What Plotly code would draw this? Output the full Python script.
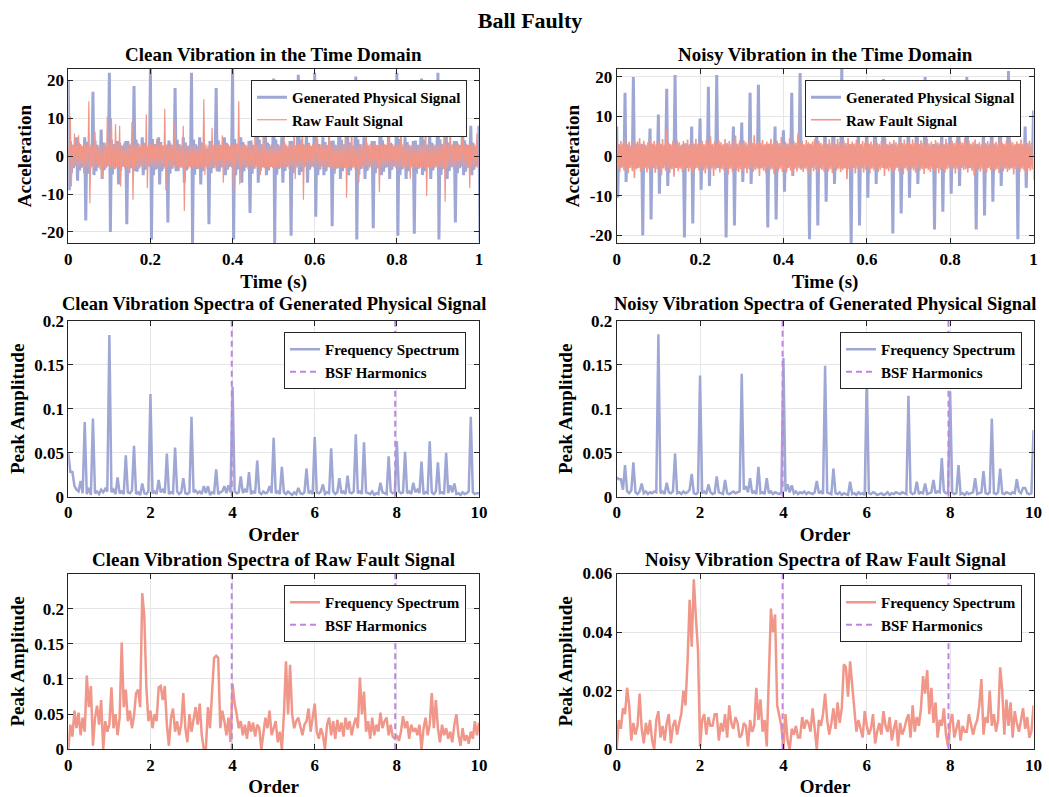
import plotly.graph_objects as go

FONT = "Liberation Serif"
BLUE = "#9FA7D5"
SALMON = "#F0978A"
PURPLE = "#BF85E0"
AXIS_COLOR = "#262626"
GRID_COLOR = "#E6E6E6"

# ------------------------------------------------------------------
# Time-domain signals, stored as the max / min of each 5 ms window
# ------------------------------------------------------------------
T_STEP = 0.005

gen_clean_hi = [
    20.0, 4.0, 3.0, 2.2, 5.0, 3.5, 2.8, 2.0, 5.0, 3.8, 2.6, 2.1, 17.0, 4.2, 3.0, 2.3, 7.0, 3.6, 2.7, 2.0,
    22.0, 4.3, 3.1, 2.2, 4.0, 3.6, 2.7, 2.0, 4.0, 4.0, 2.9, 2.1, 18.5, 4.4, 3.2, 2.3, 5.0, 3.5, 2.6, 2.0,
    23.0, 4.5, 3.2, 2.3, 5.0, 3.7, 2.8, 2.1, 3.0, 4.1, 3.0, 2.2, 18.0, 4.3, 3.1, 2.2, 5.0, 3.6, 2.7, 2.0,
    22.0, 4.4, 3.1, 2.2, 5.0, 3.6, 2.7, 2.0, 2.0, 4.0, 2.9, 2.1, 18.0, 4.2, 3.0, 2.2, 5.0, 3.5, 2.6, 2.0,
    23.0, 4.5, 3.2, 2.3, 5.0, 3.7, 2.8, 2.1, 4.0, 4.1, 3.0, 2.2, 17.0, 4.3, 3.1, 2.2, 6.0, 3.6, 2.7, 2.0,
    20.5, 4.4, 3.1, 2.2, 5.0, 3.6, 2.7, 2.0, 4.0, 4.0, 2.9, 2.1, 21.5, 4.4, 3.2, 2.3, 6.0, 3.5, 2.6, 2.0,
    22.0, 4.5, 3.2, 2.3, 5.0, 3.7, 2.8, 2.1, 4.0, 4.1, 3.0, 2.2, 19.0, 4.3, 3.1, 2.2, 6.0, 3.6, 2.7, 2.0,
    21.0, 4.4, 3.1, 2.2, 5.0, 3.6, 2.7, 2.0, 4.0, 4.0, 2.9, 2.1, 18.0, 4.2, 3.0, 2.2, 6.0, 3.5, 2.6, 2.0,
    22.0, 4.5, 3.2, 2.3, 5.0, 3.7, 2.8, 2.1, 4.0, 4.1, 3.0, 2.2, 20.5, 4.3, 3.1, 2.2, 6.0, 3.6, 2.7, 2.0,
    22.0, 4.4, 3.1, 2.2, 7.5, 3.6, 2.7, 2.0, 4.0, 4.0, 2.9, 2.1, 8.0, 4.2, 3.0, 2.2, 8.0, 3.5, 2.6, 2.0,
    8.0,
]
gen_clean_lo = [
    -9.0, -4.5, -3.2, -2.4, -6.5, -3.8, -2.9, -2.2, -17.0, -4.6, -3.3, -2.5, -5.0, -4.0, -3.0, -2.3, -6.0, -3.7, -2.8, -2.1,
    -20.0, -4.8, -3.4, -2.5, -7.5, -3.9, -2.8, -2.2, -18.0, -4.5, -3.2, -2.4, -4.0, -4.1, -3.0, -2.2, -5.0, -3.6, -2.7, -2.1,
    -22.0, -5.0, -3.5, -2.6, -7.5, -4.0, -2.9, -2.2, -17.5, -4.6, -3.3, -2.4, -4.0, -4.0, -3.0, -2.3, -7.0, -3.8, -2.8, -2.1,
    -23.0, -4.9, -3.4, -2.5, -7.5, -3.9, -2.8, -2.1, -18.0, -4.5, -3.2, -2.4, -4.0, -4.1, -3.0, -2.2, -5.0, -3.6, -2.7, -2.1,
    -22.0, -5.0, -3.5, -2.6, -7.0, -4.0, -2.9, -2.2, -15.0, -4.6, -3.3, -2.4, -7.0, -4.0, -3.0, -2.3, -5.0, -3.8, -2.8, -2.1,
    -23.0, -4.9, -3.4, -2.5, -7.0, -3.9, -2.8, -2.1, -21.0, -4.5, -3.2, -2.4, -5.0, -4.1, -3.0, -2.2, -7.0, -3.6, -2.7, -2.1,
    -16.0, -5.0, -3.5, -2.6, -5.0, -4.0, -2.9, -2.2, -18.5, -4.6, -3.3, -2.4, -6.0, -4.0, -3.0, -2.3, -5.0, -3.8, -2.8, -2.1,
    -22.0, -4.9, -3.4, -2.5, -6.0, -3.9, -2.8, -2.1, -19.0, -4.5, -3.2, -2.4, -5.0, -4.1, -3.0, -2.2, -6.0, -3.6, -2.7, -2.1,
    -21.0, -5.0, -3.5, -2.6, -6.0, -4.0, -2.9, -2.2, -20.5, -4.6, -3.3, -2.4, -5.0, -4.0, -3.0, -2.3, -6.0, -3.8, -2.8, -2.1,
    -22.0, -4.9, -3.4, -2.5, -6.0, -3.9, -2.8, -2.1, -17.5, -4.5, -3.2, -2.4, -5.0, -4.1, -3.0, -2.2, -5.0, -3.6, -2.7, -2.1,
    -22.5,
]

raw_clean_hi = [
    2.5, 10.5, 3.0, 6.0, 2.8, 5.5, 3.2, 2.6, 3.4, 2.9, 14.5, 3.1, 2.7, 6.5, 3.0, 2.4, 3.3, 2.8, 3.5, 10.5,
    3.0, 10.0, 2.7, 8.5, 3.2, 8.0, 2.9, 3.4, 2.6, 3.1, 3.3, 9.0, 2.8, 3.0, 3.5, 2.7, 3.2, 2.9, 11.0, 3.1,
    3.3, 2.8, 3.0, 4.5, 2.9, 3.2, 2.7, 12.5, 3.1, 2.8, 3.4, 3.0, 9.0, 2.6, 3.2, 2.9, 8.0, 3.3, 2.7, 3.1,
    2.8, 3.2, 3.0, 2.7, 3.4, 2.9, 15.0, 3.1, 2.8, 3.3, 7.5, 3.0, 2.7, 3.2, 2.9, 5.5, 3.4, 2.8, 3.1, 3.0,
    3.1, 2.8, 3.3, 14.5, 3.0, 2.7, 3.2, 2.9, 3.4, 3.0, 2.8, 9.0, 3.1, 3.3, 2.9, 8.0, 3.0, 2.7, 3.2, 3.1,
    2.9, 3.2, 3.0, 2.8, 3.3, 8.0, 3.1, 2.7, 3.2, 3.0, 9.5, 2.9, 3.3, 3.1, 9.8, 3.0, 2.8, 3.2, 2.9, 3.1,
    3.2, 10.0, 2.9, 3.1, 2.8, 3.3, 3.0, 10.5, 2.9, 3.2, 3.0, 2.8, 3.1, 3.3, 2.9, 9.0, 3.0, 3.2, 9.0, 2.8,
    3.0, 2.9, 3.2, 3.1, 2.8, 8.5, 3.0, 3.3, 2.9, 3.1, 3.0, 2.8, 3.2, 2.9, 3.1, 3.0, 5.0, 2.8, 3.2, 3.0,
    2.9, 3.1, 9.0, 3.0, 2.8, 3.2, 3.1, 2.9, 3.3, 3.0, 2.8, 3.1, 3.2, 2.9, 10.0, 3.0, 3.1, 2.8, 3.2, 3.0,
    3.1, 2.9, 3.0, 8.0, 3.2, 2.8, 10.0, 3.1, 3.0, 2.9, 3.3, 3.0, 9.5, 2.8, 3.1, 3.0, 3.2, 2.9, 3.1, 6.0,
]
raw_clean_lo = [
    -2.2, -8.0, -3.0, -2.6, -3.4, -2.8, -3.1, -4.5, -2.7, -3.2, -12.5, -2.9, -3.3, -2.5, -3.0, -3.6, -6.0, -2.8, -3.1, -2.6,
    -3.1, -2.7, -3.4, -2.9, -3.0, -8.0, -2.6, -3.3, -3.0, -4.2, -2.8, -11.5, -3.1, -2.9, -3.4, -2.7, -3.2, -3.0, -8.5, -2.8,
    -2.9, -3.2, -2.7, -3.3, -3.0, -2.8, -3.4, -9.0, -3.1, -2.6, -3.2, -3.0, -2.8, -3.5, -2.9, -3.1, -14.5, -2.7, -3.3, -3.0,
    -3.2, -2.8, -3.1, -3.4, -2.7, -3.0, -5.0, -3.3, -2.9, -3.1, -2.8, -3.2, -4.0, -3.0, -2.7, -7.0, -3.1, -3.3, -2.9, -3.0,
    -10.0, -3.0, -2.8, -7.5, -3.2, -2.9, -3.1, -3.4, -2.7, -3.0, -3.3, -2.9, -3.1, -5.0, -2.8, -3.2, -3.0, -3.4, -2.9, -3.1,
    -3.0, -3.3, -2.8, -3.1, -2.9, -3.2, -3.0, -3.4, -2.7, -3.1, -6.0, -2.9, -3.2, -3.0, -11.5, -2.8, -3.1, -3.3, -2.9, -3.0,
    -2.9, -3.1, -3.3, -2.8, -3.0, -3.2, -2.9, -3.1, -3.0, -3.4, -2.8, -3.1, -3.0, -2.9, -3.2, -11.0, -3.0, -2.8, -3.1, -3.3,
    -3.1, -7.0, -2.9, -3.2, -3.0, -2.8, -3.3, -3.0, -2.9, -3.1, -3.2, -9.5, -2.8, -3.0, -3.1, -2.9, -3.3, -3.0, -2.8, -3.2,
    -3.0, -3.2, -2.9, -3.1, -3.3, -2.8, -6.0, -3.0, -3.1, -2.9, -3.2, -3.0, -2.8, -3.1, -10.5, -3.0, -3.3, -2.9, -3.1, -3.0,
    -2.9, -3.1, -3.0, -12.0, -3.2, -2.8, -3.0, -3.3, -2.9, -3.1, -3.0, -2.8, -3.2, -3.0, -3.1, -8.5, -2.9, -3.2, -3.0, -3.1,
]

gen_noisy_hi = [
    7.5, 3.0, 2.5, 2.0, 16.0, 2.9, 2.4, 2.0, 20.0, 3.0, 2.6, 2.1, 3.0, 2.8, 2.3, 2.0, 7.0, 3.0, 2.5, 2.1,
    10.5, 2.9, 2.4, 2.0, 17.0, 3.0, 2.5, 2.1, 20.5, 2.8, 2.4, 2.0, 3.0, 3.0, 2.6, 2.1, 7.5, 2.9, 2.3, 2.0,
    9.5, 3.0, 2.5, 2.1, 17.5, 2.8, 2.4, 2.0, 20.5, 3.0, 2.6, 2.1, 3.0, 2.9, 2.4, 2.0, 7.5, 3.0, 2.5, 2.1,
    8.5, 2.9, 2.4, 2.0, 16.0, 3.0, 2.5, 2.1, 18.0, 2.8, 2.4, 2.0, 3.0, 3.0, 2.6, 2.1, 7.5, 2.9, 2.3, 2.0,
    6.5, 3.0, 2.5, 2.1, 16.0, 2.8, 2.4, 2.0, 21.0, 3.0, 2.6, 2.1, 3.0, 2.9, 2.4, 2.0, 7.0, 3.0, 2.5, 2.1,
    9.0, 2.9, 2.4, 2.0, 17.0, 3.0, 2.5, 2.1, 22.0, 2.8, 2.4, 2.0, 3.0, 3.0, 2.6, 2.1, 7.5, 2.9, 2.3, 2.0,
    9.0, 3.0, 2.5, 2.1, 16.5, 2.8, 2.4, 2.0, 19.5, 3.0, 2.6, 2.1, 3.0, 2.9, 2.4, 2.0, 7.0, 3.0, 2.5, 2.1,
    10.0, 2.9, 2.4, 2.0, 17.0, 3.0, 2.5, 2.1, 20.0, 2.8, 2.4, 2.0, 3.0, 3.0, 2.6, 2.1, 7.0, 2.9, 2.3, 2.0,
    9.0, 3.0, 2.5, 2.1, 17.0, 2.8, 2.4, 2.0, 20.0, 3.0, 2.6, 2.1, 3.0, 2.9, 2.4, 2.0, 7.0, 3.0, 2.5, 2.1,
    11.0, 2.9, 2.4, 2.0, 16.0, 3.0, 2.5, 2.1, 21.5, 2.8, 2.4, 2.0, 3.0, 3.0, 2.6, 2.1, 7.5, 2.9, 2.3, 2.0,
    11.5,
]
gen_noisy_lo = [
    -10.5, -3.0, -2.5, -2.0, -6.5, -2.9, -2.4, -2.0, -3.0, -3.0, -2.6, -2.1, -20.0, -2.8, -2.3, -2.0, -16.0, -3.0, -2.5, -2.1,
    -9.5, -2.9, -2.4, -2.0, -7.5, -3.0, -2.5, -2.1, -3.0, -2.8, -2.4, -2.0, -20.5, -3.0, -2.6, -2.1, -17.0, -2.9, -2.3, -2.0,
    -8.5, -3.0, -2.5, -2.1, -7.5, -2.8, -2.4, -2.0, -3.0, -3.0, -2.6, -2.1, -20.5, -2.9, -2.4, -2.0, -17.5, -3.0, -2.5, -2.1,
    -6.5, -2.9, -2.4, -2.0, -7.0, -3.0, -2.5, -2.1, -3.0, -2.8, -2.4, -2.0, -18.0, -3.0, -2.6, -2.1, -16.0, -2.9, -2.3, -2.0,
    -9.0, -3.0, -2.5, -2.1, -5.0, -2.8, -2.4, -2.0, -3.0, -3.0, -2.6, -2.1, -21.0, -2.9, -2.4, -2.0, -17.5, -3.0, -2.5, -2.1,
    -11.5, -2.9, -2.4, -2.0, -7.0, -3.0, -2.5, -2.1, -3.0, -2.8, -2.4, -2.0, -22.0, -3.0, -2.6, -2.1, -17.5, -2.9, -2.3, -2.0,
    -10.5, -3.0, -2.5, -2.1, -7.0, -2.8, -2.4, -2.0, -3.0, -3.0, -2.6, -2.1, -19.5, -2.9, -2.4, -2.0, -14.5, -3.0, -2.5, -2.1,
    -10.5, -2.9, -2.4, -2.0, -7.0, -3.0, -2.5, -2.1, -3.0, -2.8, -2.4, -2.0, -18.5, -3.0, -2.6, -2.1, -14.0, -2.9, -2.3, -2.0,
    -9.5, -3.0, -2.5, -2.1, -7.5, -2.8, -2.4, -2.0, -3.0, -3.0, -2.6, -2.1, -18.5, -2.9, -2.4, -2.0, -15.0, -3.0, -2.5, -2.1,
    -11.5, -2.9, -2.4, -2.0, -7.5, -3.0, -2.5, -2.1, -3.0, -2.8, -2.4, -2.0, -21.0, -3.0, -2.6, -2.1, -8.0, -2.9, -2.3, -2.0,
    -6.0,
]

raw_noisy_hi = [
    3.5, 2.9, 3.8, 3.2, 4.2, 3.0, 3.6, 2.8, 4.0, 3.3, 3.7, 4.5, 3.1, 3.9, 2.9, 3.5, 4.1, 3.2, 3.8, 3.0,
    3.6, 3.1, 4.3, 2.9, 6.6, 3.4, 3.0, 3.9, 3.2, 4.0, 3.5, 2.9, 3.8, 3.3, 4.2, 3.0, 3.6, 3.2, 4.4, 3.1,
    3.3, 3.9, 3.0, 4.1, 3.4, 5.0, 3.1, 3.7, 3.2, 4.0, 3.5, 3.0, 4.3, 3.3, 3.8, 3.1, 3.6, 5.2, 3.2, 3.9,
    3.2, 4.0, 3.5, 3.0, 4.2, 3.3, 5.3, 3.1, 3.8, 3.4, 4.1, 3.0, 3.7, 3.2, 4.4, 3.1, 3.6, 3.9, 3.3, 4.8,
    3.0, 3.6, 3.2, 4.5, 3.1, 3.8, 3.4, 5.8, 3.2, 3.9, 3.0, 4.1, 3.5, 3.1, 3.7, 4.3, 3.2, 3.9, 3.4, 3.0,
    3.7, 3.1, 4.2, 3.3, 3.9, 3.0, 4.4, 3.5, 3.1, 4.0, 3.3, 4.6, 3.0, 3.7, 3.2, 4.1, 3.4, 3.0, 3.8, 3.3,
    4.0, 3.2, 3.7, 3.0, 4.3, 3.4, 3.1, 3.9, 3.3, 4.6, 3.0, 3.6, 3.2, 4.1, 3.5, 3.0, 3.8, 3.3, 4.2, 3.1,
    3.5, 3.1, 4.2, 3.3, 3.8, 3.0, 4.0, 3.4, 3.1, 4.4, 3.2, 3.7, 3.0, 4.1, 3.5, 3.2, 3.9, 3.0, 4.3, 3.3,
    3.0, 3.8, 3.3, 4.1, 3.1, 3.7, 3.4, 4.5, 3.0, 3.9, 3.2, 3.6, 4.2, 3.1, 3.5, 3.0, 4.0, 3.3, 3.8, 3.2,
    4.1, 3.2, 3.6, 3.0, 4.3, 3.4, 3.1, 3.9, 3.3, 4.0, 3.5, 3.0, 3.7, 3.2, 4.2, 3.1, 3.6, 3.3, 3.9, 3.4,
]
raw_noisy_lo = [
    -3.2, -4.0, -2.9, -3.6, -3.1, -4.3, -3.0, -3.8, -5.5, -3.3, -3.0, -3.9, -3.4, -2.9, -4.1, -3.2, -3.7, -3.0, -4.2, -3.3,
    -3.5, -4.8, -3.1, -3.7, -3.0, -4.2, -3.3, -5.2, -3.0, -3.8, -3.2, -4.0, -3.5, -2.9, -3.9, -3.1, -4.5, -3.3, -3.0, -3.6,
    -3.0, -3.6, -4.4, -3.2, -3.8, -3.1, -5.0, -3.4, -3.0, -4.1, -3.3, -3.7, -3.0, -4.6, -3.2, -3.9, -3.1, -3.6, -4.0, -3.3,
    -3.8, -3.1, -4.3, -3.3, -3.0, -4.0, -3.5, -3.2, -5.0, -3.1, -3.7, -4.2, -3.0, -3.6, -3.3, -4.5, -3.1, -3.8, -3.2, -4.0,
    -3.4, -4.1, -3.0, -3.7, -4.6, -3.2, -3.9, -3.1, -3.5, -4.0, -3.2, -3.6, -4.8, -3.0, -3.8, -3.3, -4.2, -3.1, -3.5, -3.9,
    -3.1, -3.8, -3.3, -4.3, -3.0, -3.6, -3.2, -4.0, -3.5, -3.1, -5.8, -3.3, -3.9, -3.0, -4.4, -3.2, -3.7, -3.1, -4.1, -3.4,
    -3.0, -4.4, -3.2, -3.6, -3.1, -4.0, -3.4, -3.0, -5.0, -3.3, -3.8, -3.1, -4.2, -3.5, -3.0, -3.9, -3.2, -4.6, -3.1, -3.6,
    -3.9, -3.2, -3.6, -4.2, -3.0, -3.7, -3.3, -4.5, -3.1, -3.5, -4.0, -3.2, -3.8, -3.0, -4.3, -3.4, -3.1, -4.1, -3.3, -3.0,
    -3.6, -3.1, -4.4, -3.2, -3.9, -3.0, -3.5, -3.3, -4.1, -3.0, -3.7, -4.8, -3.1, -3.4, -3.9, -3.2, -3.6, -4.2, -3.0, -3.5,
    -3.1, -3.7, -3.3, -4.3, -3.0, -3.8, -3.2, -4.0, -3.5, -3.1, -4.6, -3.3, -3.0, -3.9, -3.2, -3.6, -4.4, -3.1, -3.7, -3.3,
]

# ------------------------------------------------------------------
# Order spectra (peak amplitude every 0.05 order, 0 … 10)
# ------------------------------------------------------------------
ORDER_STEP = 0.05
BSF_ORDERS = [3.98, 7.96]

spec_gen_clean = [
    0.050, 0.028, 0.028, 0.012, 0.008, 0.006, 0.018, 0.004, 0.085, 0.003, 0.010, 0.002, 0.089, 0.004, 0.006, 0.003, 0.008, 0.005, 0.009, 0.006,
    0.184, 0.005, 0.008, 0.003, 0.022, 0.004, 0.006, 0.003, 0.047, 0.005, 0.004, 0.007, 0.058, 0.003, 0.005, 0.002, 0.015, 0.004, 0.003, 0.006,
    0.117, 0.004, 0.006, 0.003, 0.019, 0.005, 0.008, 0.004, 0.049, 0.003, 0.005, 0.004, 0.056, 0.006, 0.003, 0.005, 0.021, 0.004, 0.003, 0.005,
    0.091, 0.005, 0.007, 0.004, 0.006, 0.003, 0.012, 0.004, 0.012, 0.002, 0.005, 0.004, 0.031, 0.003, 0.005, 0.006, 0.012, 0.004, 0.013, 0.005,
    0.125, 0.006, 0.004, 0.005, 0.023, 0.004, 0.008, 0.005, 0.028, 0.003, 0.006, 0.004, 0.041, 0.005, 0.003, 0.006, 0.004, 0.005, 0.012, 0.004,
    0.067, 0.004, 0.006, 0.003, 0.034, 0.005, 0.003, 0.006, 0.004, 0.002, 0.005, 0.003, 0.010, 0.004, 0.003, 0.005, 0.032, 0.004, 0.006, 0.003,
    0.068, 0.005, 0.004, 0.006, 0.014, 0.003, 0.005, 0.004, 0.055, 0.006, 0.003, 0.005, 0.021, 0.004, 0.006, 0.003, 0.024, 0.005, 0.004, 0.006,
    0.071, 0.004, 0.006, 0.003, 0.062, 0.005, 0.004, 0.003, 0.006, 0.002, 0.004, 0.003, 0.016, 0.005, 0.004, 0.003, 0.046, 0.006, 0.004, 0.005,
    0.063, 0.006, 0.004, 0.005, 0.051, 0.004, 0.006, 0.003, 0.016, 0.005, 0.008, 0.004, 0.040, 0.003, 0.005, 0.004, 0.063, 0.005, 0.003, 0.006,
    0.039, 0.004, 0.005, 0.003, 0.050, 0.004, 0.013, 0.005, 0.015, 0.003, 0.004, 0.002, 0.005, 0.003, 0.004, 0.006, 0.091, 0.005, 0.003, 0.004,
    0.004,
]
spec_gen_noisy = [
    0.022, 0.020, 0.020, 0.008, 0.036, 0.006, 0.004, 0.007, 0.039, 0.005, 0.003, 0.006, 0.015, 0.004, 0.006, 0.003, 0.005, 0.004, 0.006, 0.005,
    0.185, 0.004, 0.006, 0.003, 0.016, 0.005, 0.004, 0.006, 0.049, 0.004, 0.005, 0.003, 0.006, 0.004, 0.005, 0.008, 0.026, 0.004, 0.003, 0.005,
    0.138, 0.004, 0.006, 0.003, 0.014, 0.005, 0.003, 0.004, 0.023, 0.005, 0.004, 0.003, 0.019, 0.004, 0.003, 0.005, 0.006, 0.004, 0.005, 0.006,
    0.140, 0.008, 0.012, 0.005, 0.021, 0.004, 0.006, 0.003, 0.034, 0.004, 0.005, 0.003, 0.021, 0.004, 0.006, 0.003, 0.005, 0.004, 0.003, 0.005,
    0.158, 0.006, 0.014, 0.005, 0.013, 0.004, 0.006, 0.003, 0.005, 0.004, 0.006, 0.003, 0.005, 0.004, 0.003, 0.005, 0.018, 0.004, 0.006, 0.003,
    0.149, 0.005, 0.004, 0.003, 0.032, 0.004, 0.003, 0.005, 0.002, 0.004, 0.003, 0.002, 0.017, 0.003, 0.004, 0.002, 0.005, 0.003, 0.004, 0.002,
    0.138, 0.004, 0.003, 0.005, 0.004, 0.002, 0.003, 0.004, 0.002, 0.003, 0.005, 0.002, 0.004, 0.003, 0.005, 0.004, 0.003, 0.005, 0.004, 0.003,
    0.115, 0.005, 0.003, 0.004, 0.017, 0.003, 0.005, 0.004, 0.015, 0.003, 0.004, 0.005, 0.019, 0.004, 0.006, 0.005, 0.044, 0.006, 0.004, 0.005,
    0.120, 0.005, 0.003, 0.004, 0.036, 0.003, 0.004, 0.002, 0.005, 0.003, 0.004, 0.005, 0.021, 0.003, 0.004, 0.005, 0.029, 0.004, 0.003, 0.005,
    0.089, 0.004, 0.003, 0.005, 0.032, 0.004, 0.003, 0.005, 0.004, 0.003, 0.005, 0.004, 0.020, 0.006, 0.004, 0.010, 0.010, 0.004, 0.003, 0.004,
    0.076,
]
spec_raw_clean = [
    0.000, 0.035, 0.018, 0.055, 0.030, 0.052, 0.020, 0.045, 0.025, 0.105, 0.060, 0.090, 0.005, 0.045, 0.062, 0.035, 0.070, 0.000, 0.040, 0.025,
    0.035, 0.088, 0.030, 0.050, 0.020, 0.045, 0.152, 0.060, 0.085, 0.040, 0.055, 0.030, 0.048, 0.080, 0.085, 0.060, 0.222, 0.190, 0.090, 0.040,
    0.055, 0.030, 0.050, 0.040, 0.088, 0.090, 0.070, 0.090, 0.035, 0.005, 0.045, 0.058, 0.025, 0.040, 0.020, 0.035, 0.080, 0.030, 0.010, 0.050,
    0.025, 0.045, 0.060, 0.035, 0.065, 0.020, 0.000, 0.000, 0.060, 0.030, 0.083, 0.130, 0.133, 0.130, 0.030, 0.055, 0.040, 0.020, 0.045, 0.010,
    0.093, 0.065, 0.050, 0.030, 0.040, 0.020, 0.035, 0.015, 0.040, 0.025, 0.038, 0.018, 0.035, 0.030, 0.000, 0.025, 0.045, 0.030, 0.055, 0.020,
    0.030, 0.040, 0.010, 0.025, 0.000, 0.050, 0.125, 0.050, 0.120, 0.050, 0.030, 0.040, 0.045, 0.030, 0.020, 0.035, 0.040, 0.058, 0.025, 0.045,
    0.065, 0.025, 0.015, 0.030, 0.020, 0.000, 0.035, 0.045, 0.020, 0.040, 0.015, 0.042, 0.025, 0.038, 0.018, 0.045, 0.028, 0.040, 0.020, 0.035,
    0.045, 0.030, 0.102, 0.050, 0.082, 0.025, 0.040, 0.015, 0.045, 0.020, 0.035, 0.025, 0.052, 0.030, 0.040, 0.045, 0.020, 0.035, 0.018, 0.015,
    0.020, 0.012, 0.025, 0.047, 0.030, 0.040, 0.015, 0.035, 0.025, 0.030, 0.020, 0.035, 0.000, 0.030, 0.045, 0.020, 0.035, 0.080, 0.030, 0.070,
    0.030, 0.010, 0.035, 0.020, 0.030, 0.015, 0.025, 0.010, 0.035, 0.050, 0.020, 0.005, 0.030, 0.012, 0.020, 0.008, 0.025, 0.015, 0.040, 0.020,
    0.038,
]
spec_raw_noisy = [
    0.000, 0.010, 0.007, 0.014, 0.012, 0.021, 0.015, 0.003, 0.009, 0.005, 0.008, 0.019, 0.007, 0.002, 0.009, 0.005, 0.010, 0.003, 0.000, 0.010,
    0.013, 0.004, 0.008, 0.003, 0.009, 0.012, 0.002, 0.008, 0.010, 0.005, 0.009, 0.012, 0.020, 0.015, 0.030, 0.051, 0.035, 0.058, 0.045, 0.034,
    0.001, 0.010, 0.012, 0.005, 0.011, 0.008, 0.008, 0.012, 0.012, 0.003, 0.009, 0.006, 0.012, 0.004, 0.015, 0.009, 0.007, 0.011, 0.009, 0.004,
    0.005, 0.009, 0.008, 0.001, 0.010, 0.006, 0.008, 0.021, 0.010, 0.017, 0.006, 0.010, 0.001, 0.028, 0.048, 0.040, 0.046, 0.015, 0.012, 0.008,
    0.000, 0.012, 0.003, 0.000, 0.007, 0.005, 0.008, 0.004, 0.004, 0.011, 0.007, 0.010, 0.009, 0.006, 0.014, 0.006, 0.000, 0.010, 0.008, 0.012,
    0.019, 0.010, 0.005, 0.009, 0.014, 0.007, 0.016, 0.009, 0.014, 0.029, 0.028, 0.018, 0.030, 0.022, 0.015, 0.006, 0.010, 0.007, 0.004, 0.013,
    0.008, 0.005, 0.007, 0.012, 0.002, 0.006, 0.009, 0.005, 0.013, 0.008, 0.006, 0.011, 0.003, 0.007, 0.010, 0.001, 0.009, 0.005, 0.007, 0.010,
    0.012, 0.004, 0.015, 0.006, 0.011, 0.008, 0.014, 0.025, 0.019, 0.027, 0.012, 0.021, 0.009, 0.016, 0.004, 0.010, 0.008, 0.014, 0.005, 0.001,
    0.009, 0.012, 0.004, 0.007, 0.010, 0.003, 0.008, 0.006, 0.006, 0.012, 0.009, 0.005, 0.008, 0.010, 0.015, 0.024, 0.005, 0.011, 0.009, 0.020,
    0.008, 0.012, 0.006, 0.010, 0.028, 0.020, 0.005, 0.017, 0.008, 0.016, 0.004, 0.013, 0.009, 0.006, 0.010, 0.014, 0.007, 0.011, 0.004, 0.006,
    0.015,
]

# axis ticks
time_ticks = [0, 0.2, 0.4, 0.6, 0.8, 1]
time_ticktext = ["0", "0.2", "0.4", "0.6", "0.8", "1"]
order_ticks = [0, 2, 4, 6, 8, 10]
order_ticktext = ["0", "2", "4", "6", "8", "10"]
acc_ticks = [-20, -10, 0, 10, 20]
acc_ticktext = ["-20", "-10", "0", "10", "20"]
amp_ticks = [0, 0.05, 0.1, 0.15, 0.2]
amp_ticktext = ["0", "0.05", "0.1", "0.15", "0.2"]
amp_small_ticks = [0, 0.02, 0.04, 0.06]
amp_small_ticktext = ["0", "0.02", "0.04", "0.06"]


def minmax_path(hi, lo, step):
    """Zig-zag through the max and min of every window."""
    xs, ys = [], []
    for i, (h, l) in enumerate(zip(hi, lo)):
        t = i * step
        xs.extend([t, t + step / 2])
        ys.extend([h, l])
    return xs, ys


def order_axis(values):
    return [i * ORDER_STEP for i in range(len(values))]


def harmonic_lines(top):
    xs, ys = [], []
    for f in BSF_ORDERS:
        xs.extend([f, f, None])
        ys.extend([0, top, None])
    return xs, ys


# ------------------------------------------------------------------
# Figure geometry (pixel boxes of the six panels)
# ------------------------------------------------------------------
W, H = 1049, 797
XL = [68.3 / W, 479.0 / W]
XR = [616.7 / W, 1033.5 / W]
Y_TOP = [1 - 243.3 / H, 1 - 69.0 / H]
Y_MID = [1 - 496.7 / H, 1 - 321.0 / H]
Y_BOT = [1 - 749.3 / H, 1 - 573.5 / H]

fig = go.Figure()

# --- time domain ---
for idx, (ghi, glo, rhi, rlo, rw) in enumerate([
    (gen_clean_hi, gen_clean_lo, raw_clean_hi, raw_clean_lo, 1.2),
    (gen_noisy_hi, gen_noisy_lo, raw_noisy_hi, raw_noisy_lo, 1.6),
]):
    ax = str(idx + 1) if idx else ""
    leg = "legend" + (str(idx + 1) if idx else "")
    gx, gy = minmax_path(ghi, glo, T_STEP)
    rx, ry = minmax_path(rhi, rlo, T_STEP)
    fig.add_trace(go.Scatter(x=gx, y=gy, mode="lines", name="Generated Physical Signal",
                             line=dict(color=BLUE, width=3), xaxis="x" + ax, yaxis="y" + ax,
                             legend=leg, hoverinfo="skip"))
    fig.add_trace(go.Scatter(x=rx, y=ry, mode="lines", name="Raw Fault Signal",
                             line=dict(color=SALMON, width=rw), xaxis="x" + ax, yaxis="y" + ax,
                             legend=leg, hoverinfo="skip"))

# --- spectra ---
spectra = [
    (3, spec_gen_clean, BLUE, 0.2),
    (4, spec_gen_noisy, BLUE, 0.2),
    (5, spec_raw_clean, SALMON, 0.25),
    (6, spec_raw_noisy, SALMON, 0.06),
]
for n, spec, color, top in spectra:
    ax = str(n)
    leg = "legend" + ax
    fig.add_trace(go.Scatter(x=order_axis(spec), y=spec, mode="lines", name="Frequency Spectrum",
                             line=dict(color=color, width=2.5), xaxis="x" + ax, yaxis="y" + ax,
                             legend=leg, hoverinfo="skip"))
    hx, hy = harmonic_lines(top)
    fig.add_trace(go.Scatter(x=hx, y=hy, mode="lines", name="BSF Harmonics",
                             line=dict(color=PURPLE, width=2, dash="6px,4px"), xaxis="x" + ax,
                             yaxis="y" + ax, legend=leg, hoverinfo="skip"))

tick_font = dict(family=FONT, size=17, color="#000000", weight="bold")
label_font = dict(family=FONT, size=19, color="#000000", weight="bold")


def make_axis(domain, rng, tickvals, ticktext, anchor, title, standoff):
    return dict(
        domain=domain, range=rng, anchor=anchor, automargin=False,
        tickmode="array", tickvals=tickvals, ticktext=ticktext,
        showline=True, linecolor=AXIS_COLOR, linewidth=1, mirror="ticks",
        ticks="inside", ticklen=5, tickwidth=1, tickcolor=AXIS_COLOR,
        showgrid=True, gridcolor=GRID_COLOR, gridwidth=1, zeroline=False,
        tickfont=tick_font, fixedrange=True,
        title=dict(text=title, font=label_font, standoff=standoff),
    )


panels = [
    # (n, x domain, y domain, x range, x ticks, x labels, x title, y range, y ticks, y labels, y title)
    (1, XL, Y_TOP, [0, 1], time_ticks, time_ticktext, "Time (s)", [-23, 23], acc_ticks, acc_ticktext, "Acceleration"),
    (2, XR, Y_TOP, [0, 1], time_ticks, time_ticktext, "Time (s)", [-22, 22], acc_ticks, acc_ticktext, "Acceleration"),
    (3, XL, Y_MID, [0, 10], order_ticks, order_ticktext, "Order", [0, 0.2], amp_ticks, amp_ticktext, "Peak Amplitude"),
    (4, XR, Y_MID, [0, 10], order_ticks, order_ticktext, "Order", [0, 0.2], amp_ticks, amp_ticktext, "Peak Amplitude"),
    (5, XL, Y_BOT, [0, 10], order_ticks, order_ticktext, "Order", [0, 0.25], amp_ticks, amp_ticktext, "Peak Amplitude"),
    (6, XR, Y_BOT, [0, 10], order_ticks, order_ticktext, "Order", [0, 0.06], amp_small_ticks, amp_small_ticktext, "Peak Amplitude"),
]

titles = [
    "Clean Vibration in the Time Domain",
    "Noisy Vibration in the Time Domain",
    "Clean Vibration Spectra of Generated Physical Signal",
    "Noisy Vibration Spectra of Generated Physical Signal",
    "Clean Vibration Spectra of Raw Fault Signal",
    "Noisy Vibration Spectra of Raw Fault Signal",
]
# gap (px) between each panel's top edge and the centre of its title
title_gap = [14, 14, 17, 17, 14, 14]

layout = {}
annotations = []
for (n, xd, yd, xr, xt, xtt, xtitle, yr, yt, ytt, ytitle), ttl, gap in zip(panels, titles, title_gap):
    sfx = str(n) if n > 1 else ""
    layout["xaxis" + sfx] = make_axis(xd, xr, xt, xtt, "y" + sfx, xtitle, 6)
    layout["yaxis" + sfx] = make_axis(yd, yr, yt, ytt, "x" + sfx, ytitle, 4)
    annotations.append(dict(
        text=ttl, x=(xd[0] + xd[1]) / 2, y=yd[1] + gap / H, xref="paper", yref="paper",
        xanchor="center", yanchor="middle", showarrow=False,
        font=dict(family=FONT, size=19 if n not in (3, 4) else 18.5, color="#000000", weight="bold"),
    ))

legend_style = dict(
    xanchor="right", yanchor="top", bgcolor="white", bordercolor=AXIS_COLOR, borderwidth=1,
    font=dict(family=FONT, size=15, color="#000000", weight="bold"), tracegroupgap=0,
)
legend_pos = {
    "legend": (467, 80), "legend2": (1021, 80),
    "legend3": (466, 332), "legend4": (1022, 332),
    "legend5": (466, 585), "legend6": (1022, 585),
}
for name, (px, py) in legend_pos.items():
    layout[name] = dict(legend_style, x=px / W, y=1 - py / H)

fig.update_layout(
    width=W, height=H,
    margin=dict(l=0, r=0, t=0, b=0, autoexpand=False),
    paper_bgcolor="white", plot_bgcolor="white",
    showlegend=True,
    title=dict(text="Ball Faulty", x=530 / W, y=1 - 20 / H, xanchor="center", yanchor="middle",
               font=dict(family=FONT, size=22, color="#000000", weight="bold")),
    annotations=annotations,
    **layout,
)

fig.write_html("out.html")
